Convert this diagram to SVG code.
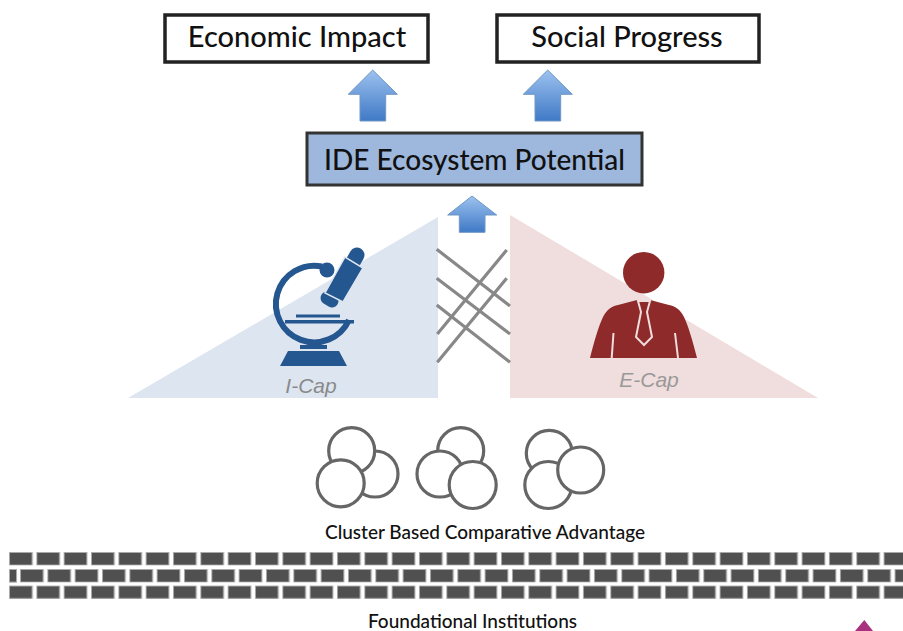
<svg xmlns="http://www.w3.org/2000/svg" width="903" height="631" viewBox="0 0 903 631">
<style>
.t{font-family:Lato,"Noto Sans",sans-serif;fill:#111;text-anchor:middle;font-weight:500}
.box{fill:#fff;stroke:#222;stroke-width:3.5}
.arr{fill:url(#ag);stroke:#6f97c4;stroke-width:1}
.c{fill:#fff;stroke:#666;stroke-width:3.2}
.x{stroke:#888;stroke-width:3.2;fill:none}
.cap{font-family:"Liberation Sans",Arial,sans-serif;font-style:italic;font-size:21px;fill:#8a8a8a;text-anchor:middle}
.mb{fill:#24568f}
.br{fill:#505050;stroke:#aaa;stroke-width:1}
</style>
<defs>
<linearGradient id="ag" x1="0" y1="0" x2="0" y2="1"><stop offset="0" stop-color="#9dc2ef"/><stop offset="1" stop-color="#3f79c6"/></linearGradient>
<pattern id="br1" x="9" y="552" width="27.33" height="14" patternUnits="userSpaceOnUse"><rect class="br" x="0.5" y="0.5" width="22.8" height="12.6"/></pattern>
<pattern id="br2" x="20" y="569" width="27.33" height="14" patternUnits="userSpaceOnUse"><rect class="br" x="0.5" y="0.5" width="22.8" height="12.6"/></pattern>
<pattern id="br3" x="9" y="585.500" width="27.33" height="14" patternUnits="userSpaceOnUse"><rect class="br" x="0.5" y="0.5" width="22.8" height="12.6"/></pattern>
</defs>
<rect width="903" height="631" fill="#fff"/>
<g id="triangle-icap"><polygon points="128,398 438,398 438,217" fill="#dde5f0"/></g>
<g id="triangle-ecap"><polygon points="510,215 510,398 818,398" fill="#f0dddd"/></g>
<g id="connectors">
<path class="arr" d="M372.700 70L397.300 94.300H385.700V121H360V94.300H348.300Z"/>
<path class="arr" d="M547.700 70L572.300 94.300H560.700V121H535V94.300H523.300Z"/>
<path class="arr" d="M472 196L496.700 215H485V232.300H459.300V215H447.700Z"/>
<path class="x" d="M436.700 249.300L510 306M436.700 278.300L510 334M436.700 305L510 362.300M506.700 250L437.300 334M506.700 278.300L437.300 362.300"/>
</g>
<g id="economic-impact"><rect class="box" x="165" y="15" width="263" height="47"/><text class="t" x="297" y="47" font-size="29">Economic Impact</text></g>
<g id="social-progress"><rect class="box" x="497" y="15" width="262" height="47"/><text class="t" x="627" y="47" font-size="29">Social Progress</text></g>
<g id="ide-potential"><rect x="307" y="133" width="335" height="52" fill="#9db8dc" stroke="#333" stroke-width="3"/><text class="t" x="474.500" y="170" font-size="28">IDE Ecosystem Potential</text></g>
<g id="icap">
<path d="M322 266.500A38.300 38.300 0 1 0 349 320" fill="none" stroke="#24568f" stroke-width="6"/>
<rect class="mb" x="296" y="314.500" width="44" height="3"/>
<rect class="mb" x="285" y="320" width="69" height="3.500"/>
<rect class="mb" x="300" y="345" width="27" height="4"/>
<polygon class="mb" points="280,366 347,366 339,351 288,351"/>
<circle class="mb" cx="327" cy="270" r="7.500"/>
<path d="M353 262L357 255" stroke="#24568f" stroke-width="15" stroke-linecap="round"/>
<path d="M327 298L332 301" stroke="#24568f" stroke-width="13" stroke-linecap="round"/>
<polygon class="mb" points="325,293 345,257 363,268 343,302" stroke="#dde5f0" stroke-width="1.500"/>
<text class="cap" x="311" y="393">I-Cap</text>
</g>
<g id="ecap">
<circle cx="643.700" cy="272.700" r="20.700" fill="#8f2a2a"/>
<path d="M590 358C594 342 599 325 603 317C607 309 612 306 618 305L637 300H650L669 305C675 306 680 309 684 317C688 325 693 342 697 358Z" fill="#8f2a2a"/>
<path d="M613.500 333L611.700 358M675 333L678 358" stroke="#f0dddd" stroke-width="2" fill="none"/>
<path d="M638 301H650L647 312L652 337L644 345L636 337L641 312Z" fill="#8f2a2a" stroke="#f0dddd" stroke-width="2"/>
<text class="cap" x="649" y="387" style="fill:#999">E-Cap</text>
</g>
<g id="cluster-1"><circle class="c" cx="375" cy="474" r="23"/><circle class="c" cx="351.700" cy="450.700" r="23"/><circle class="c" cx="340.700" cy="483.300" r="23.500"/></g>
<g id="cluster-2"><circle class="c" cx="460.700" cy="450.700" r="23"/><circle class="c" cx="440" cy="474" r="23"/><circle class="c" cx="472.700" cy="485" r="23.500"/></g>
<g id="cluster-3"><circle class="c" cx="549.300" cy="453.300" r="23"/><circle class="c" cx="548.300" cy="485" r="23.500"/><circle class="c" cx="580.700" cy="470" r="23"/></g>
<text class="t" x="485" y="539" font-size="19">Cluster Based Comparative Advantage</text>
<g id="bricks">
<rect x="9" y="552" width="894" height="13.500" fill="url(#br1)"/>
<rect class="br" x="9.500" y="569.500" width="7" height="12.600"/>
<rect x="20" y="569" width="883" height="13.500" fill="url(#br2)"/>
<rect x="9" y="585.500" width="894" height="13.500" fill="url(#br3)"/>
</g>
<text class="t" x="472.500" y="628" font-size="19">Foundational Institutions</text>
<polygon points="864.300,620 855,631 873,631" fill="#a8307e"/>
</svg>
